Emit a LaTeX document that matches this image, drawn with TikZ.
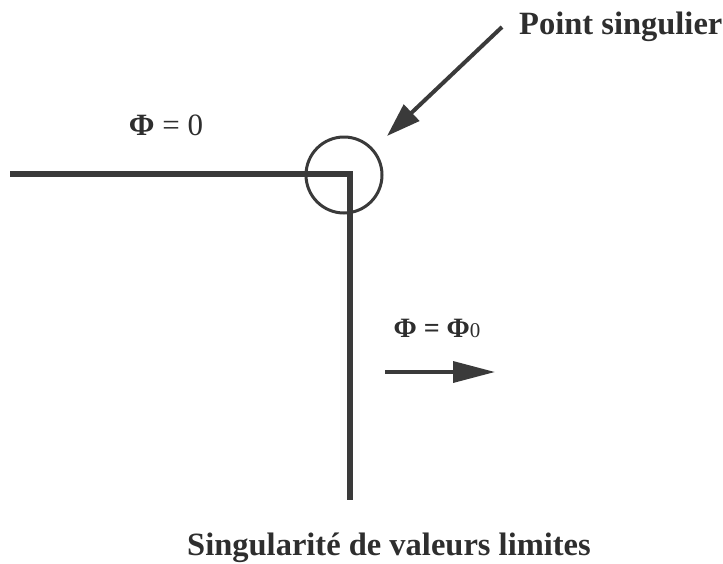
\documentclass[tikz,border=0pt]{standalone}
\usepackage{fontspec}
\setmainfont{Liberation Serif}
\usetikzlibrary{arrows.meta}
\definecolor{ink}{HTML}{3A3A3A}
\definecolor{txt}{HTML}{2E2E2E}
\tikzset{
  wall/.style={draw=ink, line width=6pt, line join=miter},
  ring/.style={circle, draw=ink, line width=3pt, minimum size=76pt, inner sep=0pt},
  pointer/.style={draw=ink, fill=ink, line width=4pt, -{Triangle[length=34pt,width=22pt]}},
  flow/.style={draw=ink, fill=ink, line width=3.5pt, -{Triangle[length=42pt,width=21pt]}},
  lbl/.style={inner sep=0pt, text=txt, font=\fontsize{32.5}{38}\selectfont\bfseries},
  eq/.style={inner sep=0pt, text=txt, font=\fontsize{31}{36}\selectfont}
}
\begin{document}
\begin{tikzpicture}[x=1pt,y=-1pt]
\useasboundingbox (0,0) rectangle (723,563);
% walls
\coordinate (a) at (10,173.7);
\coordinate (b) at (350,173.7);
\coordinate (c) at (350,500);
\draw[wall] (a) -- (b) -- (c);
% singular point ring
\node[ring] (circ) at (344,175) {};
% label and pointer
\node[lbl, anchor=base west] (ps) at (519,34) {Point singulier};
\coordinate (ptail) at (502,27);
\coordinate (ptip) at (387,136);
\draw[pointer] (ptail) -- (ptip);
% potentials
\node[eq, anchor=base] (phi0) at (166,135) {{\bfseries Φ} = 0};
\node[eq, anchor=base, font=\fontsize{28}{32}\selectfont] (phi1) at (437,337) {\bfseries Φ = Φ{\fontsize{21}{24}\selectfont\mdseries 0}};
% flow arrow
\coordinate (atail) at (385,372);
\coordinate (atip) at (495,372);
\draw[flow] (atail) -- (atip);
% caption
\node[lbl, anchor=base] (cap) at (389,555) {Singularité de valeurs limites};
\end{tikzpicture}
\end{document}
